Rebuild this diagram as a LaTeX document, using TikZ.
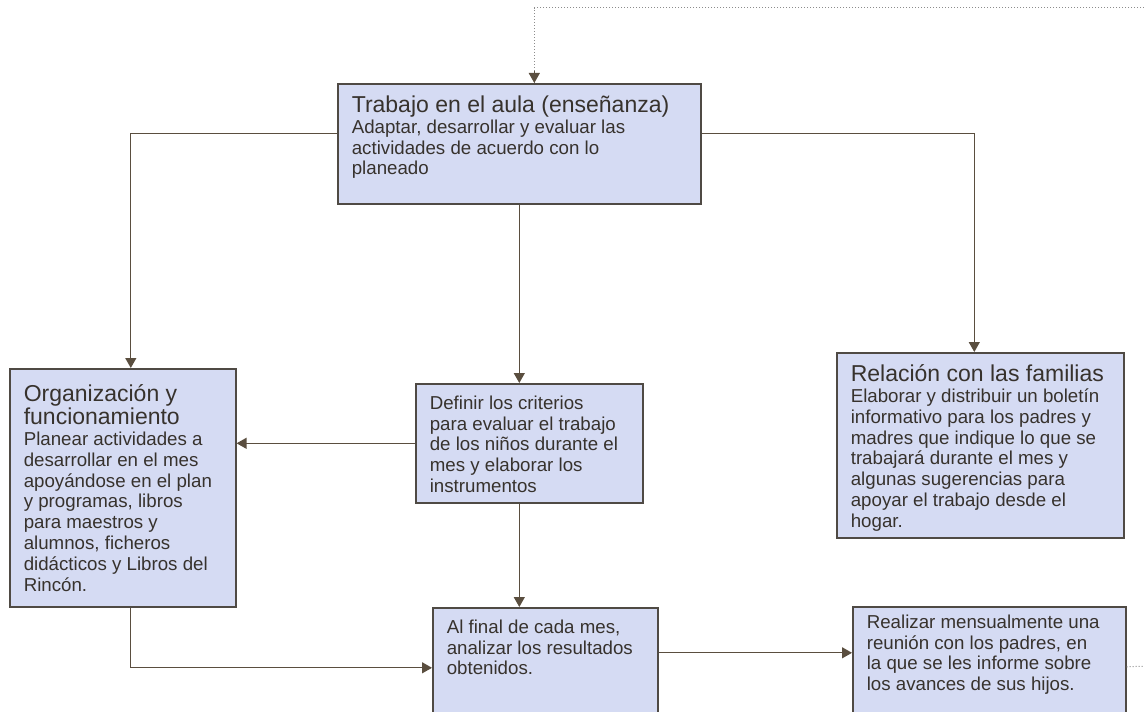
\documentclass[tikz,border=0pt]{standalone}
\usepackage{fontspec}
\setmainfont{Liberation Sans}
\usetikzlibrary{arrows.meta}
\definecolor{CajaFondo}{HTML}{D5DBF3}
\definecolor{CajaBorde}{HTML}{4F4A44}
\definecolor{Texto}{HTML}{37322D}
\definecolor{Linea}{HTML}{5A4E3F}
\definecolor{Punteado}{HTML}{8C8C8C}
\newcommand{\titulo}{\fontsize{11.5}{11.5}\selectfont}

\tikzset{
  caja/.style={draw=CajaBorde, fill=CajaFondo, line width=0.8pt, anchor=north west,
    inner xsep=7pt, inner ysep=6pt, text=Texto, font=\fontsize{9.35}{10.4}\selectfont},
  flecha/.style={draw=Linea, line width=0.65pt, -{Triangle[length=5pt,width=5.5pt]}},
  punteado/.style={draw=Punteado, line width=0.5pt, densely dotted},
}

\begin{document}
\begin{tikzpicture}[x=0.5pt,y=-0.5pt]
\path[use as bounding box] (0,0) rectangle (1144,711);
\clip (0,0) rectangle (1144,711);
% cajas
\node[caja] (aula) at (337,83) {\parbox[t][48pt][t]{167.5pt}{\raggedright{\titulo Trabajo en el aula (enseñanza)\par}Adaptar, desarrollar y evaluar las\\actividades de acuerdo con lo\\planeado}};
\node[caja] (org) at (9,368) {\parbox[t][107pt][t]{99pt}{\raggedright\vspace*{2pt}{\titulo Organización y\\funcionamiento\par}Planear actividades a\\desarrollar en el mes\\apoyándose en el plan\\y programas, libros\\para maestros y\\alumnos, ficheros\\didácticos y Libros del\\Rincón.}};
\node[caja] (def) at (415,383) {\parbox[t][47.5pt][t]{99.5pt}{\raggedright Definir los criterios\\para evaluar el trabajo\\de los niños durante el\\mes y elaborar los\\instrumentos}};
\node[caja] (rel) at (836,352) {\parbox[t][80.5pt][t]{129.5pt}{\raggedright{\titulo Relación con las familias\par}Elaborar y distribuir un boletín\\informativo para los padres y\\madres que indique lo que se\\trabajará durante el mes y\\algunas sugerencias para\\apoyar el trabajo desde el\\hogar.}};
\node[caja] (fin) at (432,607) {\parbox[t][48pt][t]{98.5pt}{\raggedright Al final de cada mes,\\analizar los resultados\\obtenidos.}};
\node[caja] (reu) at (852,606) {\parbox[t][48pt][t]{122.5pt}{\raggedright\vspace*{-2pt}Realizar mensualmente una\\reunión con los padres, en\\la que se les informe sobre\\los avances de sus hijos.}};
\coordinate (entrada) at (1150,8);
\coordinate (salida) at (1150,666);
% conectores
\draw[punteado] (entrada) -| ([xshift=7.5pt]aula.north);
\draw[flecha] ([xshift=7.5pt,yshift=6pt]aula.north) -- ([xshift=7.5pt]aula.north);
\draw[flecha] ([yshift=5pt]aula.west) -| ([xshift=4pt]org.north);
\draw[flecha] ([yshift=5pt]aula.east) -| ([xshift=-3pt]rel.north);
\draw[flecha] (aula.south) -- (aula.south |- def.north);
\draw[flecha] (def.west) -- (def.west -| org.east);
\draw[flecha] (aula.south |- def.south) -- (aula.south |- fin.north);
\draw[flecha] ([xshift=4pt]org.south) |- (fin.west);
\draw[flecha] ([yshift=7.5pt]fin.east) -- ([yshift=7.5pt]fin.east -| reu.west);
\draw[punteado] (reu.east) -- (salida);
\end{tikzpicture}
\end{document}
